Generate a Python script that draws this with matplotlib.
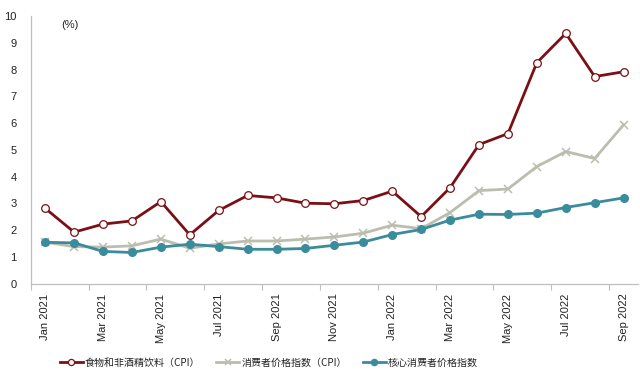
import numpy as np
import matplotlib.pyplot as plt

plt.rcParams['font.family'] = ['Liberation Sans', 'Noto Sans CJK SC', 'DejaVu Sans']

months = ['Jan 2021', 'Feb 2021', 'Mar 2021', 'Apr 2021', 'May 2021', 'Jun 2021',
          'Jul 2021', 'Aug 2021', 'Sep 2021', 'Oct 2021', 'Nov 2021', 'Dec 2021',
          'Jan 2022', 'Feb 2022', 'Mar 2022', 'Apr 2022', 'May 2022', 'Jun 2022',
          'Jul 2022', 'Aug 2022', 'Sep 2022']
food = [2.82, 1.93, 2.23, 2.35, 3.07, 1.83, 2.74, 3.30, 3.21, 3.01, 2.99, 3.11,
        3.46, 2.51, 3.59, 5.20, 5.61, 8.26, 9.35, 7.74, 7.92]
cpi = [1.55, 1.39, 1.37, 1.42, 1.67, 1.33, 1.49, 1.60, 1.60, 1.67, 1.75, 1.89,
       2.19, 2.06, 2.66, 3.48, 3.54, 4.38, 4.94, 4.68, 5.94]
core = [1.55, 1.53, 1.21, 1.17, 1.37, 1.48, 1.39, 1.29, 1.29, 1.32, 1.44, 1.56,
        1.84, 2.03, 2.38, 2.60, 2.59, 2.64, 2.85, 3.03, 3.21]

red = '#7a1015'
gray = '#bdbdae'
teal = '#3a8c9c'
txt = '#222222'

fig = plt.figure(figsize=(6.4, 3.82), dpi=100)
ax = fig.add_axes([0.048, 0.257, 0.949, 0.701])

x = np.arange(len(months))
ax.plot(x, food, color=red, lw=2, marker='o', ms=5.5, mfc='white', mec=red, mew=0.9,
        label='食物和非酒精饮料（CPI）', zorder=3)
ax.plot(x, cpi, color=gray, lw=2, marker='x', ms=5.5, mec=gray, mew=1.1,
        label='消费者价格指数（CPI）', zorder=2)
ax.plot(x, core, color=teal, lw=2, marker='o', ms=5.5, mfc=teal, mec=teal,
        label='核心消费者价格指数', zorder=2)

ax.set_xlim(-0.5, len(months) - 0.5)
ax.set_ylim(0, 10)
ax.set_yticks(range(0, 11))
ax.set_xticks(x[::2])
ax.set_xticklabels(months[::2], rotation=90)
ax.set_xticks(np.arange(-0.5, len(months) - 0.5, 2), minor=True)
ax.tick_params(axis='x', which='major', length=0, labelsize=8, pad=7, colors=txt)
ax.tick_params(axis='x', which='minor', length=4, color='#bfbfbf', width=0.8)
ax.tick_params(axis='y', length=0, labelsize=8, pad=10, colors=txt)

for s in ['top', 'right']:
    ax.spines[s].set_visible(False)
for s in ['left', 'bottom']:
    ax.spines[s].set_color('#bfbfbf')
    ax.spines[s].set_linewidth(0.9)

ax.text(0.55, 9.65, '(%)', fontsize=8, color=txt, ha='left', va='center')

fig.legend(loc='center', bbox_to_anchor=(0.42, 0.05), ncol=3, frameon=False,
           handlelength=2.3, columnspacing=1.6, handletextpad=0.2, labelcolor=txt,
           markerscale=0.8, prop={'family': ['Noto Sans CJK SC', 'DejaVu Sans'], 'size': 7.2})

fig.savefig('out.png', dpi=100)
